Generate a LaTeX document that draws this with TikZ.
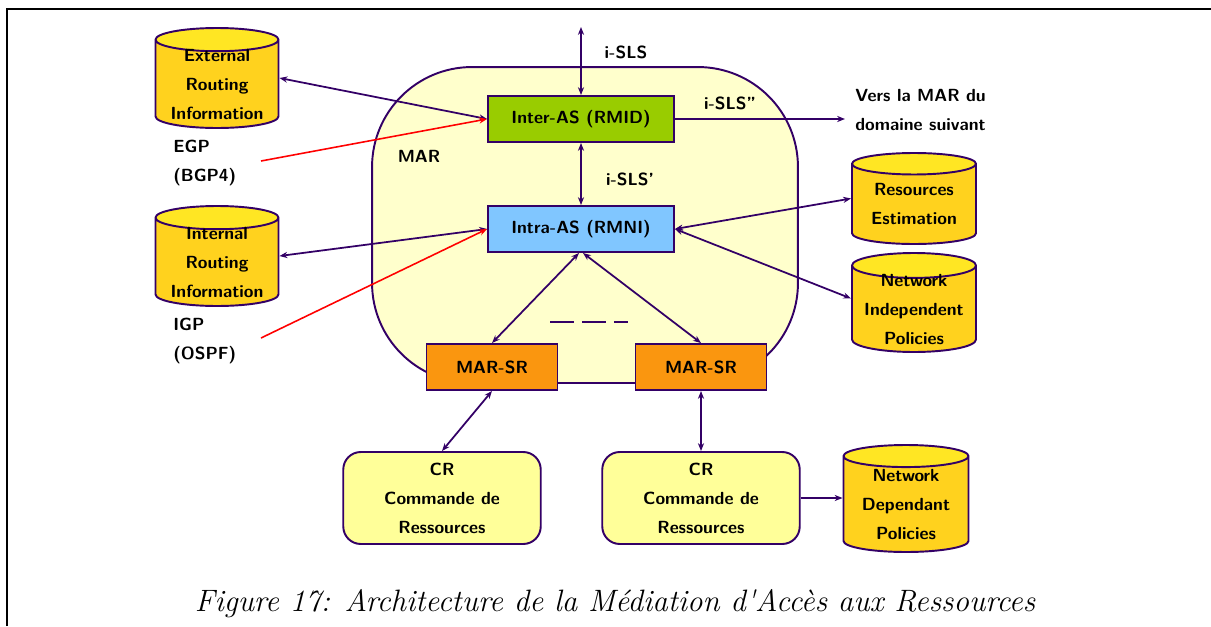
\documentclass[tikz,border=0pt]{standalone}
\usepackage{tikz}
\usetikzlibrary{shapes.geometric,arrows.meta}
\definecolor{marline}{RGB}{51,0,102}
\definecolor{marbg}{RGB}{255,255,204}
\definecolor{crbg}{RGB}{255,255,153}
\definecolor{intergreen}{RGB}{153,204,0}
\definecolor{intrablue}{RGB}{128,198,255}
\definecolor{srorange}{RGB}{250,150,15}
\definecolor{cylbody}{RGB}{255,210,30}
\definecolor{cyltop}{RGB}{255,230,35}

\begin{document}
\begin{tikzpicture}[x=0.02cm, y=-0.02cm, >={Stealth[length=4.5pt,width=3.5pt]},
  lbl/.style={font={\fontsize{10}{16.5}\selectfont\sffamily\bfseries}, align=center, inner sep=0pt},
  box/.style={lbl, draw=marline, line width=1.1pt, minimum width=3.72cm, minimum height=0.92cm},
  srbox/.style={box, fill=srorange, minimum width=2.62cm},
  crbox/.style={lbl, draw=marline, line width=1.1pt, fill=crbg, rounded corners=0.35cm, minimum width=3.95cm, minimum height=1.84cm},
  db/.style={lbl, cylinder, shape border rotate=90, aspect=0.25, inner ysep=-3pt, anchor=shape center,
    draw=marline, line width=1.1pt, cylinder uses custom fill, cylinder body fill=cylbody, cylinder end fill=cyltop},
  link/.style={marline, line width=1pt},
  proto/.style={red, line width=0.9pt}]
  \useasboundingbox (0,0) rectangle (1211,626);
  \draw[line width=1.7pt] (7,626) -- (7,9) -- (1211,9);

  \node[draw=marline, line width=1.1pt, fill=marbg, rounded corners=2cm, minimum width=8.52cm, minimum height=6.32cm] (mar) at (585,225) {};
  \node[lbl] (marlbl) at (419,156) {MAR};
  \node[box, fill=intergreen] (inter) at (581,119) {Inter-AS (RMID)};
  \node[box, fill=intrablue] (intra) at (581,229) {Intra-AS (RMNI)};
  \node[srbox] (srL) at (492,367) {MAR-SR};
  \node[srbox] (srR) at (701,367) {MAR-SR};
  \node[crbox] (crL) at (442,498) {CR\\Commande de\\Ressources};
  \node[crbox] (crR) at (701,498) {CR\\Commande de\\Ressources};

  \node[db, minimum width=2.46cm, minimum height=2cm] (ext) at (217,78) {External\\Routing\\Information};
  \node[db, minimum width=2.46cm, minimum height=2cm] (intn) at (217,256) {Internal\\Routing\\Information};
  \node[db, minimum width=2.48cm, minimum height=1.82cm] (resest) at (914,198.5) {Resources\\Estimation};
  \node[db, minimum width=2.48cm, minimum height=1.98cm] (nip) at (914,302.5) {Network\\Independent\\Policies};
  \node[db, minimum width=2.5cm, minimum height=2.14cm] (ndp) at (906,498.5) {Network\\Dependant\\Policies};

  \node[lbl] (isls) at (626,52) {i-SLS};
  \node[lbl] (islsp) at (630,179) {i-SLS'};
  \node[lbl] (islspp) at (730,103) {i-SLS''};
  \node[lbl, anchor=west, align=left] (vers) at (855,110) {Vers la MAR du\\domaine suivant};
  \node[lbl, anchor=west, align=left] (egp) at (173,163) {EGP\\(BGP4)};
  \node[lbl, anchor=west, align=left] (igp) at (173,341) {IGP\\(OSPF)};
  \node (caption) at (615,604) {\fontsize{17.6}{21}\selectfont\itshape Figure 17: Architecture de la Médiation d\textquotesingle Accès aux Ressources};

  \coordinate (up) at (581,27);
  \coordinate (next) at (845,119);
  \coordinate (egpend) at (261,161);
  \coordinate (igpend) at (261,338);

  \draw[link,<->] (up) -- (inter.north);
  \draw[link,<->] (inter.south) -- (intra.north);
  \draw[link,->] (inter.east) -- (next);
  \draw[link,<->] (inter.west) -- (ext.east |- ext.shape center);
  \draw[proto,->] (egpend) -- (inter.west);
  \draw[link,<->] (intra.west) -- (intn.east |- intn.shape center);
  \draw[proto,->] (igpend) -- (intra.west);
  \draw[link,<->] (intra.east) -- (resest.west |- resest.shape center);
  \draw[link,<->] (intra.east) -- ([yshift=0.08cm]nip.west |- nip.shape center);
  \draw[link,<->] ([xshift=-0.04cm]intra.south) -- (srL.north);
  \draw[link,<->] ([xshift=0.04cm]intra.south) -- (srR.north);
  \draw[link,<->] (srL.south) -- (crL.north);
  \draw[link,<->] (srR.south) -- (crR.north);
  \draw[link,->] (crR.east) -- (crR.east -| ndp.west);
  \draw[link, dash pattern=on 0.48cm off 0.16cm] (550,322) -- (628,322);
\end{tikzpicture}
\end{document}
